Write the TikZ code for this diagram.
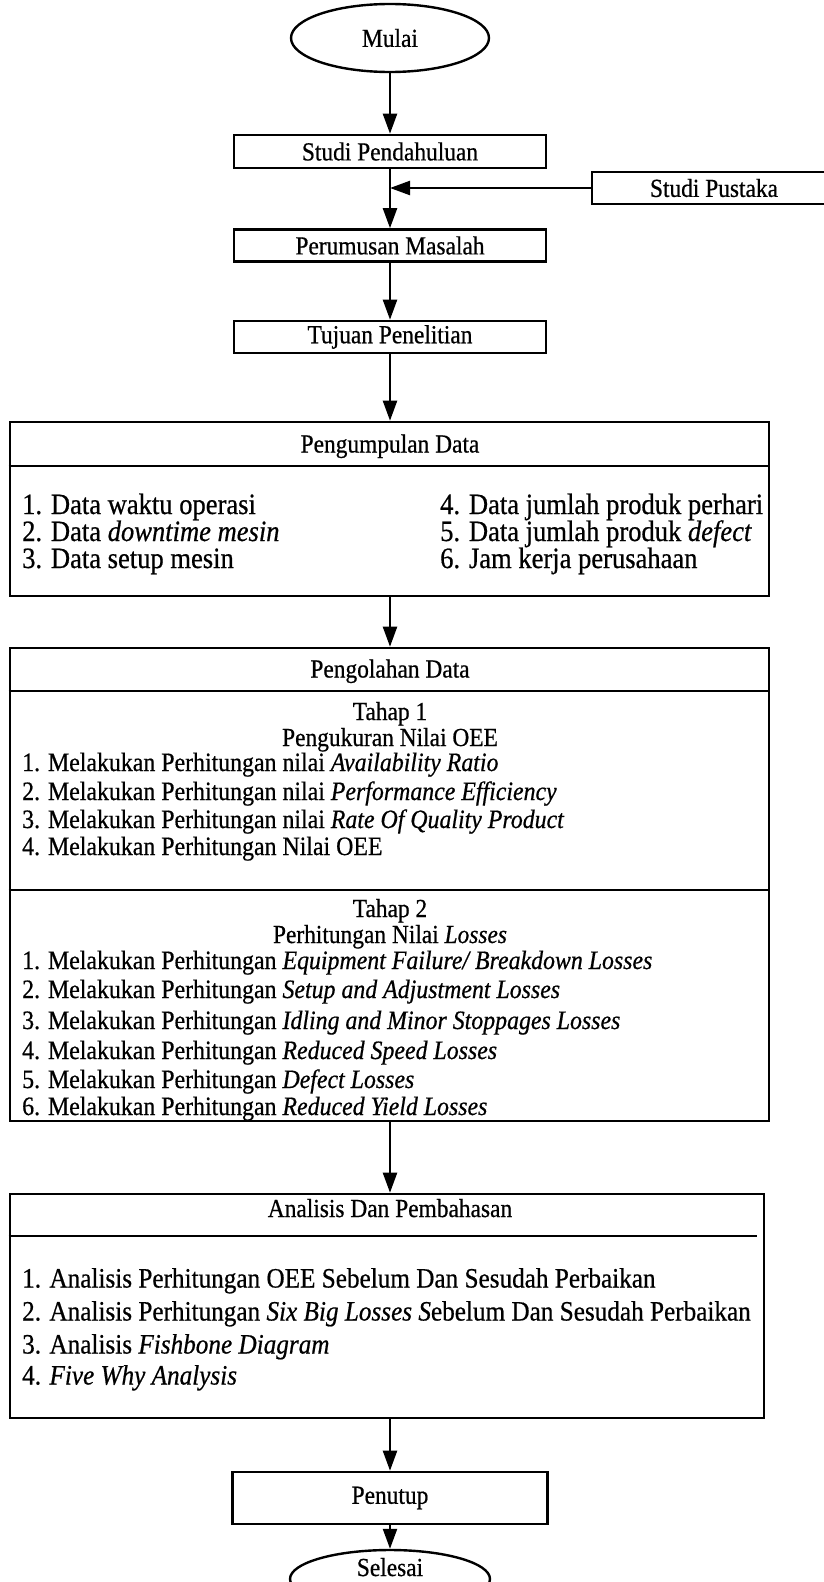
\documentclass[tikz,border=0pt]{standalone}
\usepackage{fontspec}
\setmainfont{Liberation Serif}[FakeStretch=0.9, FakeBold=0.6]
\usetikzlibrary{arrows.meta,shapes.geometric}
\begin{document}
\begin{tikzpicture}[x=1pt,y=-1pt,
  every node/.style={font=\fontsize{26}{30}\selectfont},
  divider/.style={line width=2.6pt},
  terminal/.style={ellipse, draw, line width=2.4pt, inner sep=0pt},
  stepbox/.style={rectangle, draw, line width=2.6pt, inner sep=0pt, minimum width=312pt},
  panel/.style={rectangle, draw, line width=2.6pt, inner sep=0pt},
  flow/.style={line width=2.3pt, -{Triangle[length=20pt,width=14pt]}},
  heading/.style={anchor=base, inner sep=0pt},
  item/.style={anchor=base west, inner sep=0pt},
  collect/.style={font=\fontsize{29.5}{32}\selectfont},
  process/.style={font=\fontsize{26.5}{30}\selectfont},
  review/.style={font=\fontsize{28}{31}\selectfont}
]
\useasboundingbox (0,0) rectangle (823,1582);
\fill[white] (0,0) rectangle (823,1582);

% start and opening steps
\node[terminal, minimum width=198pt, minimum height=68pt] (mulai) at (390,38) {Mulai};
\node[stepbox, minimum height=33pt] (studi) at (390,151.5) {Studi Pendahuluan};
\node[stepbox, minimum width=244pt, minimum height=32pt] (pustaka) at (714,188) {Studi Pustaka};
\node[stepbox, minimum height=32pt] (rumusan) at (390,245.5) {Perumusan Masalah};
\node[stepbox, minimum height=32pt] (tujuan) at (390,337) {Tujuan Penelitian};
\coordinate (join) at (390,188);

% data collection
\node[panel, minimum width=759pt, minimum height=174pt] (kumpul) at (389.5,509) {};
\draw[divider] (kumpul.west |- 0,466) -- (kumpul.east |- 0,466);
\node[heading] at (390,452.5) {Pengumpulan Data};
\begin{scope}[every node/.append style={collect}]
\node[item] at (22,514) {1. Data waktu operasi};
\node[item] at (22,541) {2. Data \textit{downtime mesin}};
\node[item] at (22,568) {3. Data setup mesin};
\node[item] at (440,514) {4. Data jumlah produk perhari};
\node[item] at (440,541) {5. Data jumlah produk \textit{defect}};
\node[item] at (440,568) {6. Jam kerja perusahaan};
\end{scope}

% data processing
\node[panel, minimum width=759pt, minimum height=473pt] (olah) at (389.5,884.5) {};
\draw[divider] (olah.west |- 0,691) -- (olah.east |- 0,691);
\draw[divider] (olah.west |- 0,890) -- (olah.east |- 0,890);
\node[heading] at (390,677.5) {Pengolahan Data};
\node[heading] at (390,720) {Tahap 1};
\node[heading] at (390,746) {Pengukuran Nilai OEE};
\node[heading] at (390,917) {Tahap 2};
\node[heading] at (390,943) {Perhitungan Nilai \textit{Losses}};
\begin{scope}[every node/.append style={process}]
\node[item] at (22,771) {1. Melakukan Perhitungan nilai \textit{Availability Ratio}};
\node[item] at (22,800) {2. Melakukan Perhitungan nilai \textit{Performance Efficiency}};
\node[item] at (22,828) {3. Melakukan Perhitungan nilai \textit{Rate Of Quality Product}};
\node[item] at (22,855) {4. Melakukan Perhitungan Nilai OEE};
\node[item] at (22,969) {1. Melakukan Perhitungan \textit{Equipment Failure/ Breakdown Losses}};
\node[item] at (22,998) {2. Melakukan Perhitungan \textit{Setup and Adjustment Losses}};
\node[item] at (22,1029) {3. Melakukan Perhitungan \textit{Idling and Minor Stoppages Losses}};
\node[item] at (22,1059) {4. Melakukan Perhitungan \textit{Reduced Speed Losses}};
\node[item] at (22,1088) {5. Melakukan Perhitungan \textit{Defect Losses}};
\node[item] at (22,1115) {6. Melakukan Perhitungan \textit{Reduced Yield Losses}};
\end{scope}

% analysis
\node[panel, minimum width=754pt, minimum height=224pt] (analisis) at (387,1306) {};
\draw[divider] (analisis.west |- 0,1236) -- (757,1236);
\node[heading] at (390,1217) {Analisis Dan Pembahasan};
\begin{scope}[every node/.append style={review}]
\node[item] at (22,1287.5) {1. Analisis Perhitungan OEE Sebelum Dan Sesudah Perbaikan};
\node[item] at (22,1320.5) {2. Analisis Perhitungan \textit{Six Big Losses S}ebelum Dan Sesudah Perbaikan};
\node[item] at (22,1353.5) {3. Analisis \textit{Fishbone Diagram}};
\node[item] at (22,1384.5) {4. \textit{Five Why Analysis}};
\end{scope}

% closing
\node[stepbox, minimum width=315pt, minimum height=52pt] (penutup) at (390,1498) {Penutup};
\node[terminal, minimum width=200pt, minimum height=58pt] (selesai) at (390,1579) {};
\node[heading] at (390,1576) {Selesai};

% connectors
\draw[flow] (mulai.south) -- (studi.north);
\draw[flow] (studi.south) -- (rumusan.north);
\draw[flow] (pustaka.west) -- (join);
\draw[flow] (rumusan.south) -- (tujuan.north);
\draw[flow] (tujuan.south) -- (mulai |- kumpul.north);
\draw[flow] (mulai |- kumpul.south) -- (mulai |- olah.north);
\draw[flow] (mulai |- olah.south) -- (mulai |- analisis.north);
\draw[flow] (mulai |- analisis.south) -- (penutup.north);
\draw[flow] (penutup.south) -- (selesai.north);
\end{tikzpicture}
\end{document}
